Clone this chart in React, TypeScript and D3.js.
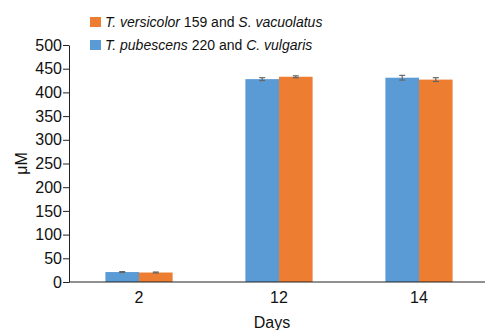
import React from 'react';
import * as d3 from 'd3';

const days = ['2', '12', '14'];
const seriesNames = ['pubescens', 'versicolor'];
const pubescensValues = [21, 428, 431];
const pubescensErrors = [1, 3, 5];
const versicolorValues = [20, 433, 427];
const versicolorErrors = [1, 2, 4];
const yTicks = [0, 50, 100, 150, 200, 250, 300, 350, 400, 450, 500];

const App = () => {
    const svgRef = React.useRef<SVGSVGElement | null>(null);
    React.useEffect(() => {
        const width = 485,
            height = 330;
        const svg = d3.select(svgRef.current);
        svg.selectAll('*').remove();

        const font = 'Liberation Sans, Arial, sans-serif';
        const blue = '#5b9bd5',
            orange = '#ed7d31';

        const y = d3.scaleLinear().domain([0, 500]).range([282, 45]);
        const x0 = d3.scaleBand()
            .domain(days)
            .range([69, 489])
            .paddingInner(0.52)
            .paddingOuter(0.26);
        const x1 = d3.scaleBand()
            .domain(seriesNames)
            .range([0, x0.bandwidth()]);

        const rows = days.map((d, i) => ({
            day: d,
            vals: [
                { key: 'pubescens', v: pubescensValues[i], e: pubescensErrors[i], c: blue },
                { key: 'versicolor', v: versicolorValues[i], e: versicolorErrors[i], c: orange },
            ],
        }));

        // bars
        const groups = svg.selectAll('g.grp')
            .data(rows)
            .join('g')
            .attr('class', 'grp')
            .attr('transform', d => `translate(${x0(d.day)},0)`);

        groups.selectAll('rect')
            .data(d => d.vals)
            .join('rect')
            .attr('x', d => x1(d.key)!)
            .attr('y', d => y(d.v))
            .attr('width', x1.bandwidth())
            .attr('height', d => y(0) - y(d.v))
            .attr('fill', d => d.c);

        // error bars
        const eb = groups.selectAll('g.err')
            .data(d => d.vals)
            .join('g')
            .attr('class', 'err')
            .attr('stroke', '#666')
            .attr('stroke-width', 1.2);
        eb.append('line')
            .attr('x1', d => x1(d.key)! + x1.bandwidth() / 2)
            .attr('x2', d => x1(d.key)! + x1.bandwidth() / 2)
            .attr('y1', d => y(d.v - d.e))
            .attr('y2', d => y(d.v + d.e));
        eb.selectAll('line.cap')
            .data(d => [
                { xc: x1(d.key)! + x1.bandwidth() / 2, yv: d.v - d.e },
                { xc: x1(d.key)! + x1.bandwidth() / 2, yv: d.v + d.e },
            ])
            .join('line')
            .attr('class', 'cap')
            .attr('x1', d => d.xc - 3)
            .attr('x2', d => d.xc + 3)
            .attr('y1', d => y(d.yv))
            .attr('y2', d => y(d.yv));

        // y axis
        const yAxis = svg.append('g')
            .attr('transform', 'translate(69,0)')
            .call(d3.axisLeft(y).tickValues(yTicks).tickSize(6).tickSizeOuter(0));
        yAxis.select('.domain').attr('stroke', '#222');
        yAxis.selectAll('.tick line').attr('stroke', '#222');
        yAxis.selectAll('.tick text')
            .attr('x', -7)
            .attr('fill', '#111')
            .style('font-size', '16px')
            .style('font-family', font);

        // x axis
        svg.append('line')
            .attr('x1', 69)
            .attr('x2', width)
            .attr('y1', y(0))
            .attr('y2', y(0))
            .attr('stroke', '#222');
        svg.selectAll('text.xtick')
            .data(days)
            .join('text')
            .attr('class', 'xtick')
            .attr('x', d => x0(d)! + x0.bandwidth() / 2)
            .attr('y', 303)
            .attr('text-anchor', 'middle')
            .style('font-size', '16px')
            .style('font-family', font)
            .attr('fill', '#111')
            .text(d => d);

        svg.append('text')
            .attr('x', 272)
            .attr('y', 328)
            .attr('text-anchor', 'middle')
            .style('font-size', '16px')
            .style('font-family', font)
            .attr('fill', '#111')
            .text('Days');

        svg.append('text')
            .attr('transform', `translate(27,${y(250)}) rotate(-90)`)
            .attr('text-anchor', 'middle')
            .style('font-size', '16px')
            .style('font-family', font)
            .attr('fill', '#111')
            .text('μM');

        // legend
        const legend = [
            { c: orange, sp1: 'T. versicolor', mid: ' 159 and ', sp2: 'S. vacuolatus', yy: 27 },
            { c: blue, sp1: 'T. pubescens', mid: ' 220 and ', sp2: 'C. vulgaris', yy: 50 },
        ];
        legend.forEach(l => {
            svg.append('rect')
                .attr('x', 90)
                .attr('y', l.yy - 10)
                .attr('width', 11)
                .attr('height', 10)
                .attr('fill', l.c);
            const t = svg.append('text')
                .attr('x', 105)
                .attr('y', l.yy)
                .style('font-size', '14px')
                .style('font-family', font)
                .attr('fill', '#111');
            t.append('tspan').style('font-style', 'italic').text(l.sp1);
            t.append('tspan').text(l.mid);
            t.append('tspan').style('font-style', 'italic').text(l.sp2);
        });
    }, []);

    return (
        <svg
            ref={svgRef}
            width={485}
            height={330}
            style={{ position: 'absolute', left: 0, top: 0, background: '#fff' }}
        />
    );
};

export default App;
